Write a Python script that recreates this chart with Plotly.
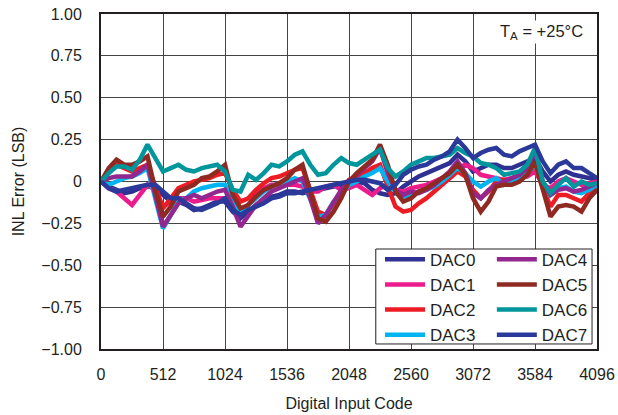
import plotly.graph_objects as go

# digital input code, sampled every 64 codes
codes = list(range(0, 4097, 64))

dac0 = [0, -0.03, -0.05, -0.07, -0.06, -0.04, -0.03, -0.03, -0.08, -0.12, -0.12, -0.14, -0.17,
        -0.16, -0.14, -0.12, -0.12, -0.18, -0.22, -0.18, -0.14, -0.11, -0.09, -0.08, -0.06,
        -0.06, -0.07, -0.06, -0.05, -0.04, -0.03, -0.02, -0.01, 0.0, -0.01, -0.05, -0.07,
        -0.08, -0.07, -0.03, 0.0, 0.03, 0.05, 0.07, 0.09, 0.11, 0.16, 0.12, 0.06, 0.08, 0.1,
        0.1, 0.08, 0.08, 0.1, 0.12, 0.14, 0.06, 0.0, 0.04, 0.06, 0.04, 0.03, 0.02, 0.01]
dac1 = [0, -0.04, -0.06, -0.1, -0.14, -0.08, -0.02, -0.05, -0.15, -0.12, -0.1, -0.1, -0.12,
        -0.11, -0.1, -0.1, -0.1, -0.16, -0.2, -0.14, -0.08, -0.04, -0.02, -0.02, -0.02, -0.02,
        -0.03, -0.06, -0.06, -0.03, -0.02, -0.05, -0.04, -0.02, -0.05, -0.08, -0.04, -0.02,
        -0.05, -0.06, -0.04, -0.03, -0.02, 0.0, 0.02, 0.05, 0.08, 0.1, 0.08, 0.04, 0.03, 0.02,
        0.01, 0.02, 0.03, 0.03, 0.06, -0.02, -0.04, 0.0, 0.02, 0.0, -0.02, -0.01, 0.0]
dac2 = [0, 0.06, 0.1, 0.08, 0.06, 0.08, 0.1, -0.03, -0.16, -0.1, -0.04, -0.02, 0.0, 0.01, 0.02,
        0.04, 0.05, -0.05, -0.12, -0.1, -0.05, -0.01, 0.02, 0.03, 0.05, 0.07, 0.08, -0.06,
        -0.18, -0.2, -0.13, -0.06, 0.01, 0.03, 0.05, 0.08, 0.1, -0.03, -0.15, -0.18, -0.17,
        -0.13, -0.1, -0.06, -0.02, 0.02, 0.06, 0.03, -0.05, -0.1, -0.06, 0.0, 0.01, 0.0, 0.02,
        0.05, 0.1, -0.04, -0.15, -0.08, -0.08, -0.1, -0.12, -0.07, -0.03]
dac3 = [0, -0.02, 0.0, 0.02, 0.03, 0.05, 0.08, -0.1, -0.28, -0.2, -0.12, -0.1, -0.06, -0.04,
        -0.03, -0.02, -0.02, -0.12, -0.18, -0.14, -0.1, -0.06, -0.03, -0.01, 0.0, 0.02, 0.0,
        -0.1, -0.21, -0.2, -0.12, -0.08, -0.02, 0.0, 0.03, 0.05, 0.08, 0.0, -0.06, -0.09,
        -0.08, -0.06, -0.05, -0.03, 0.0, 0.04, 0.08, 0.05, 0.0, -0.03, 0.0, 0.02, -0.02, 0.0,
        0.02, 0.05, 0.1, 0.0, -0.08, -0.04, -0.03, -0.06, -0.07, -0.05, -0.02]
dac4 = [0, 0.02, 0.03, 0.03, 0.03, 0.06, 0.1, -0.08, -0.27, -0.2, -0.13, -0.1, -0.08, -0.1,
        -0.08, -0.06, -0.05, -0.15, -0.27, -0.2, -0.14, -0.1, -0.06, -0.04, -0.02, 0.0, 0.02,
        -0.1, -0.25, -0.2, -0.12, -0.05, 0.0, 0.04, 0.08, 0.12, 0.2, 0.05, -0.05, -0.08, -0.06,
        -0.07, -0.05, -0.02, 0.02, 0.06, 0.12, 0.05, -0.07, -0.1, -0.05, -0.02, 0.0, 0.02, 0.04,
        0.08, 0.18, 0.0, -0.08, -0.05, -0.04, -0.06, -0.05, -0.03, -0.01]
dac5 = [0, 0.08, 0.13, 0.1, 0.1, 0.12, 0.15, -0.05, -0.21, -0.15, -0.06, -0.04, -0.02, 0.02,
        0.03, 0.06, 0.1, -0.08, -0.16, -0.14, -0.09, -0.05, -0.03, -0.01, 0.02, 0.07, 0.1,
        -0.05, -0.22, -0.24, -0.18, -0.1, 0.0, 0.05, 0.09, 0.13, 0.22, 0.1, -0.06, -0.12, -0.1,
        -0.06, -0.04, -0.01, 0.02, 0.05, 0.1, 0.04, -0.1, -0.18, -0.12, -0.03, -0.02, -0.02,
        0.0, 0.04, 0.12, -0.05, -0.21, -0.15, -0.14, -0.15, -0.18, -0.1, -0.05]
dac6 = [0, 0.05, 0.09, 0.09, 0.07, 0.13, 0.22, 0.14, 0.06, 0.08, 0.1, 0.07, 0.06, 0.08, 0.09,
        0.1, 0.06, -0.05, -0.06, 0.04, 0.01, 0.05, 0.1, 0.09, 0.12, 0.16, 0.18, 0.1, 0.04, 0.05,
        0.1, 0.14, 0.11, 0.1, 0.13, 0.16, 0.19, 0.08, 0.03, 0.06, 0.1, 0.12, 0.14, 0.14, 0.15,
        0.16, 0.2, 0.17, 0.15, 0.11, 0.1, 0.08, 0.04, 0.05, 0.06, 0.1, 0.2, 0.0, -0.07, -0.02,
        0.02, -0.03, 0.0, -0.02, -0.01]
dac7 = [0, -0.04, -0.06, -0.05, -0.04, -0.03, -0.02, -0.02, -0.06, -0.1, -0.1, -0.13, -0.16,
        -0.17, -0.15, -0.13, -0.1, -0.17, -0.2, -0.17, -0.15, -0.13, -0.1, -0.09, -0.07, -0.07,
        -0.06, -0.05, -0.04, -0.03, -0.02, -0.01, 0.0, 0.01, 0.01, 0.0, -0.01, -0.05, -0.02,
        0.04, 0.07, 0.09, 0.1, 0.13, 0.15, 0.18, 0.25, 0.2, 0.14, 0.17, 0.19, 0.2, 0.16, 0.15,
        0.18, 0.2, 0.22, 0.12, 0.05, 0.1, 0.12, 0.08, 0.08, 0.05, 0.02]

names = ["DAC0", "DAC1", "DAC2", "DAC3", "DAC4", "DAC5", "DAC6", "DAC7"]
series = [dac0, dac1, dac2, dac3, dac4, dac5, dac6, dac7]
colors = ["#2E3192", "#EC1C8C", "#ED1C24", "#00B5EF", "#92278F", "#8E2A22", "#00969B", "#2B3A9A"]

x_ticks = [0, 512, 1024, 1536, 2048, 2560, 3072, 3584, 4096]
y_ticks = [1.0, 0.75, 0.5, 0.25, 0, -0.25, -0.5, -0.75, -1.0]
y_labels = ["1.00", "0.75", "0.50", "0.25", "0", "\u22120.25", "\u22120.50", "\u22120.75", "\u22121.00"]

fig = go.Figure()
for i, (name, ys, c) in enumerate(zip(names, series, colors)):
    fig.add_trace(go.Scatter(
        x=codes, y=ys, mode="lines", name=name,
        line=dict(color=c, width=4.5),
        legend="legend" if i < 4 else "legend2",
    ))

font = dict(family="Liberation Sans, Arial, sans-serif", size=16, color="#231F20")
lfont = dict(font, size=17)
axis = dict(showline=True, linecolor="#231F20", linewidth=2, mirror=True, automargin=False,
            showgrid=True, gridcolor="#444444", gridwidth=1, zeroline=False,
            ticks="", tickfont=font, ticklabeloverflow="allow")

fig.update_layout(
    width=618, height=415,
    margin=dict(l=101, r=21, t=14, b=66, autoexpand=False),
    plot_bgcolor="white", paper_bgcolor="white",
    font=font,
    xaxis=dict(axis, range=[0, 4096], tickvals=x_ticks, ticklabelstandoff=10,
               title=dict(text="Digital Input Code", font=font, standoff=16)),
    yaxis=dict(axis, range=[-1, 1], tickvals=y_ticks, ticktext=y_labels, ticklabelstandoff=14,
               title=dict(text="INL Error (LSB)", font=font, standoff=13)),
    legend=dict(x=0.5625, y=0.32, xanchor="left", yanchor="top",
                bgcolor="rgba(0,0,0,0)", font=lfont, tracegroupgap=0, itemwidth=40),
    legend2=dict(x=0.788, y=0.32, xanchor="left", yanchor="top",
                 bgcolor="rgba(0,0,0,0)", font=lfont, tracegroupgap=0, itemwidth=40),
    shapes=[dict(type="rect", xref="paper", yref="paper", x0=0.554, x1=0.99, y0=0.015, y1=0.2985,
                 line=dict(color="#231F20", width=1), fillcolor="white", layer="above")],
    annotations=[dict(text="T<sub>A</sub> = +25°C", xref="paper", yref="paper",
                      x=0.975, y=0.945, xanchor="right", yanchor="middle", showarrow=False,
                      bgcolor="white", font=dict(font, size=16.5))],
)

# drop the default page margin so the figure fills the window
fig.write_html("out.html", config={"displayModeBar": False},
               post_script="document.body.style.margin='0';")
